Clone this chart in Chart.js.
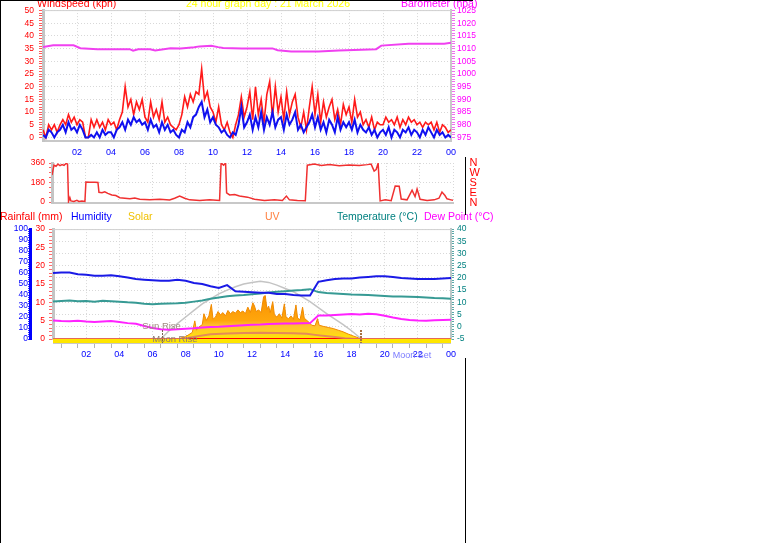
<!DOCTYPE html>
<html><head><meta charset="utf-8"><title>24 hour graph day : 21 March 2026</title>
<script src="https://cdn.jsdelivr.net/npm/chart.js@4.4.1/dist/chart.umd.min.js"></script>
<style>
html,body{margin:0;padding:0;background:#fff;}
body{position:relative;width:761px;height:543px;overflow:hidden;font-family:"Liberation Sans",Arial,sans-serif;}
canvas{position:absolute;display:block;}
.t{position:absolute;font-size:10.5px;line-height:12px;white-space:nowrap;z-index:3;}
.bl{position:absolute;background:#000;z-index:4;}
</style></head><body>
<canvas id="c1" width="500" height="160" style="left:0;top:0"></canvas>
<canvas id="c2" width="464" height="66" style="left:0;top:150px"></canvas>
<canvas id="c3" width="500" height="148" style="left:0;top:220px"></canvas>
<div class="bl" style="left:0;top:0;width:473px;height:1px"></div>
<div class="bl" style="left:0;top:0;width:1px;height:543px"></div>
<div class="bl" style="left:465px;top:157px;width:1px;height:58px"></div>
<div class="bl" style="left:465px;top:358px;width:1px;height:185px"></div>
<div class="t" style="left:37px;top:-2.6px;color:#ff0000">Windspeed (kph)</div>
<div class="t" style="left:186px;top:-2.6px;color:#ffff00">24 hour graph day : 21 March 2026</div>
<div class="t" style="left:401px;top:-2.6px;color:#ff00ff">Barometer (hpa)</div>
<div class="t" style="left:469.5px;top:157px;color:#ff0000;font-size:11px;line-height:10px">N<br>W<br>S<br>E<br>N</div>
<div class="t" style="left:0;top:209.9px;color:#ff0000">Rainfall (mm)</div>
<div class="t" style="left:71px;top:209.9px;color:#0000ff">Humidity</div>
<div class="t" style="left:128px;top:209.9px;color:#f0c000">Solar</div>
<div class="t" style="left:265px;top:209.9px;color:#ff8040">UV</div>
<div class="t" style="left:337px;top:209.9px;color:#008080">Temperature (°C)</div>
<div class="t" style="left:424px;top:209.9px;color:#ff00ff">Dew Point (°C)</div>
<script>
// ---------------- DATA ----------------
// wind speed (kph), one value every 10 minutes from 00:00 to 24:00
const windGust = [
3,0,5,3,5,2, 5,7,5,9,6,8, 5,7,6,0,0,7, 4,7,4,6,3,7,
5,6,3,7,10,20, 12,15,9,14,11,15, 8,6,14,8,11,7, 14,6,8,5,4,3,
5,9,16,12,17,14, 18,17,27,15,18,12, 10,6,12,5,3,6, 2,0,5,9,16,8,
12,18,7,20,9,15, 6,17,22,8,20,10, 16,7,18,9,14,17, 8,4,10,3,12,20,
9,17,6,14,8,12, 15,7,11,5,13,9, 12,6,15,8,10,5, 7,4,8,3,6,5,
5,8,6,7,5,8, 4,7,5,8,6,7, 5,6,4,6,5,6, 3,6,2,5,4,2, 3];
const windAvg = [
1,0,3,2,0,2, 3,5,2,6,3,4, 2,5,3,0,0,1, 0,2,0,3,1,2,
2,0,3,4,6,3, 7,5,8,6,7,5, 6,3,7,4,5,2, 6,3,5,2,3,1,
0,3,2,6,4,8, 9,12,14,8,11,6, 8,5,4,2,3,1, 0,2,1,5,12,4,
6,9,3,8,4,10, 3,8,5,10,4,7, 8,3,9,5,7,10, 3,5,2,4,6,9,
4,8,3,6,2,7, 5,2,8,3,6,4, 6,3,7,2,5,3, 2,4,1,3,0,2,
3,1,4,0,3,2, 0,3,2,4,1,3, 2,0,3,1,4,2, 0,3,1,2,0,1, 0];
const windStepHours = 1/6;

// barometer (hPa)
const baroTimes  = [0,0.6,1.8,2.2,3.2,5.1,5.3,5.6,6.3,6.6,7.5,8.1,8.9,9.2,9.9,10.3,10.6,11.7,13.5,13.8,14.6,16.2,17.4,19.6,19.9,21.5,23.6,24];
const baroValues = [1010.6,1011.3,1011.3,1010.2,1009.8,1009.8,1009.2,1009.8,1009.8,1009.3,1010.2,1010.1,1010.6,1010.9,1011.1,1010.6,1010.3,1010.1,1010.1,1009.4,1008.9,1008.9,1009.3,1009.8,1011.2,1011.9,1011.9,1012.3];

// wind direction (degrees)
const dirTimes  = [0,0.12,0.24,0.36,0.48,0.6,0.72,0.84,0.93,0.99,1.07,1.13,1.31,1.49,1.61,1.79,1.97,2.03,2.27,2.57,2.75,2.81,2.99,3.16,3.34,3.58,3.82,4.06,4.36,4.66,4.96,5.25,5.85,6.45,7.04,7.34,7.64,7.94,8.24,8.84,9.43,10.03,10.12,10.27,10.39,10.45,10.63,10.93,11.22,11.7,12.12,12.72,13.31,13.79,14.03,14.21,14.69,15.16,15.28,15.7,16.12,16.6,17.19,17.79,18.39,18.87,19.1,19.28,19.4,19.52,19.64,19.94,20.3,20.54,20.78,20.9,21.25,21.55,21.73,21.85,22.03,22.45,22.87,23.16,23.34,23.52,23.64,23.88,24];
const dirValues = [249,340,330,350,335,345,338,355,350,5,40,10,5,15,5,10,5,185,183,183,180,90,85,95,80,65,60,40,35,30,38,25,20,25,18,35,55,35,20,15,20,15,360,340,360,85,65,70,55,45,25,15,20,15,55,20,15,12,340,350,338,345,335,342,338,345,350,285,300,358,10,20,12,148,145,28,20,110,50,120,25,15,20,35,92,60,30,20,15];

// half-hourly series, 00:00 .. 24:00
const halfHourStep = 0.5;
const humidity    = [60,60.5,60.5,59,58.5,57.5,57.5,58,57,56,54.5,54,53.5,53,53,54,53,51,50,48,46.5,49,43.5,43,42.5,42,42,41,41,40,39.5,39.5,52,53.5,54.5,55,55,56,56.5,57,57,56.5,55.5,55,54.5,54.5,54.5,55,55.5];
const temperature = [10.4,10.6,10.8,10.5,10.6,10.3,10.7,10.5,10.3,10.0,9.8,9.4,9.2,9.4,9.5,9.6,9.8,10.3,10.8,11.5,12.0,12.5,12.8,13.0,13.3,13.6,14.0,14.3,14.6,14.9,15.1,15.4,14.2,13.8,13.6,13.4,13.2,13.1,13.0,12.8,12.6,12.4,12.4,12.3,12.2,12.0,11.8,11.7,11.5];
const dewPoint    = [2.6,2.4,2.3,2.5,2.2,2.0,2.2,2.4,2.0,1.5,1.2,0.3,-0.5,-1.0,-1.2,-1.0,-0.8,-0.6,-0.3,-0.1,0.0,0.2,0.4,0.6,0.8,0.9,1.1,1.2,1.3,1.3,1.4,1.5,4.6,4.6,4.8,5.0,5.2,5.0,5.3,5.1,4.5,3.8,3.2,2.8,2.6,2.5,2.7,2.8,2.9];

// hourly rainfall (mm)
const rainfall = [0,0,0,0,0,0,0,0,0,0,0,0,0,0,0,0,0,0,0,0,0,0,0,0,0];

// solar radiation (W/m2)
const solarTimes  = [7.4,7.7,8.0,8.2,8.4,8.55,8.65,8.8,9.0,9.1,9.25,9.4,9.55,9.65,9.8,9.95,10.1,10.25,10.4,10.55,10.7,10.85,11.0,11.15,11.3,11.45,11.6,11.75,11.9,12.05,12.15,12.25,12.4,12.55,12.7,12.8,12.9,13.0,13.1,13.25,13.35,13.5,13.65,13.8,13.95,14.05,14.2,14.35,14.5,14.65,14.75,14.9,15.05,15.15,15.3,15.45,15.6,15.8,15.95,16.05,16.3,16.6,16.9,17.2,17.5,17.8,18.1,18.4,18.65];
const solarValues = [0,8,22,40,60,165,80,110,130,230,170,210,315,180,200,250,220,240,210,260,230,250,235,265,240,255,230,290,240,330,300,250,265,240,385,395,270,300,240,340,220,200,230,190,320,200,185,210,180,310,190,175,290,190,170,150,125,120,185,125,115,105,95,80,65,45,28,12,0];
// theoretical maximum solar (W/m2)
const solarMaxTimes  = [6.5,7.0,7.5,8.0,8.5,9.0,9.5,10.0,10.5,11.0,11.5,12.0,12.5,13.0,13.5,14.0,14.5,15.0,15.5,16.0,16.5,17.0,17.5,18.0,18.6];
const solarMaxValues = [0,75,140,200,260,320,365,410,445,475,500,515,525,515,490,460,430,385,340,285,230,180,130,75,0];
// UV index
const uvTimes  = [0,7.7,8.2,8.8,9.5,10.5,11.5,12.5,13.5,14.5,15.3,15.8,16.4,17.0,17.6,18.3,24];
const uvValues = [0,0,0.25,0.55,0.85,1.0,1.1,1.15,1.1,1.05,0.95,0.75,0.55,0.35,0.15,0,0];

// astronomical events (hours)
const sunRise = 6.55, sunSet = 18.6, moonRise = 7.35, moonSet = 21.65;

// tick labels
const xTickHours = [2,4,6,8,10,12,14,16,18,20,22,24];
const xTickText  = ['02','04','06','08','10','12','14','16','18','20','22','00'];
const windTickLabels = [0,5,10,15,20,25,30,35,40,45,50];
const baroTickLabels = [975,980,985,990,995,1000,1005,1010,1015,1020,1025];
const dirTickLabels  = [0,180,360];
const humTickLabels  = [0,10,20,30,40,50,60,70,80,90,100];
const rainTickLabels = [0,5,10,15,20,25,30];
const tempTickLabels = [-5,0,5,10,15,20,25,30,35,40];

// ---------------- HELPERS ----------------
const range = (a,b,s)=>{const r=[];for(let v=a;v<=b+1e-9;v+=s)r.push(+v.toFixed(3));return r;};
const pairs = (t,v)=>v.map((y,i)=>({x:t[i],y}));
const uniform = (v,step)=>v.map((y,i)=>({x:i*step,y}));
const setTicks = list => s => { s.ticks = list.map(v=>({value:v})); };
const hourLabel = v => { const i = xTickHours.indexOf(v); return i>=0 ? xTickText[i] : ''; };
const GRID = '#d8d8d8', CLEAR = 'rgba(0,0,0,0)';

Chart.defaults.font.family = '"Liberation Sans", Arial, sans-serif';
const base = {
  responsive:false, animation:false, events:[], devicePixelRatio:1,
  plugins:{legend:{display:false}, tooltip:{enabled:false}},
  elements:{point:{radius:0}, line:{tension:0}}
};
const topLine = {
  id:'topLine',
  beforeDatasetsDraw(chart){
    const {ctx, chartArea:a} = chart;
    ctx.save(); ctx.strokeStyle='#d0d0d0'; ctx.lineWidth=1;
    ctx.beginPath(); ctx.moveTo(a.left, a.top+0.5); ctx.lineTo(a.right, a.top+0.5); ctx.stroke();
    ctx.restore();
  }
};

// ---------------- PANEL 1: wind speed + barometer ----------------
new Chart(document.getElementById('c1'), {
  type:'line',
  data:{datasets:[
    {data:pairs(baroTimes, baroValues), borderColor:'#f040f0', borderWidth:2, yAxisID:'yb', order:0},
    {data:uniform(windAvg, windStepHours), borderColor:'#1010f0', borderWidth:2, yAxisID:'y', order:1},
    {data:uniform(windGust, windStepHours), borderColor:'#ff1a1a', borderWidth:1.6, yAxisID:'y', order:2}
  ]},
  options:{...base,
    layout:{padding:{top:9}},
    scales:{
      x:{type:'linear', min:0, max:24, afterBuildTicks:setTicks(xTickHours), afterFit:s=>{s.height=19;},
         ticks:{callback:hourLabel, color:'#0000ff', font:{size:9}, padding:6, maxRotation:0, autoSkip:false},
         grid:{color:GRID, drawTicks:false}, border:{color:'#c8c8c8', width:2, dash:[1,2]}},
      y:{position:'left', min:-1.4, max:50.2, afterBuildTicks:setTicks(range(0,50,1)), afterFit:s=>{s.width=43;},
         ticks:{callback:v=>windTickLabels.includes(v)?String(v):'', color:'#ff0000', font:{size:8.5}, padding:5, autoSkip:false},
         grid:{color:c=>(c.tick && c.tick.value%5===0)?GRID:CLEAR, tickColor:'#ff5a5a', tickLength:4},
         border:{color:'#c4c4c4', width:3, dash:[1,2]}},
      yb:{position:'right', min:973.6, max:1025.2, afterBuildTicks:setTicks(range(975,1025,1)), afterFit:s=>{s.width=49;},
         ticks:{callback:v=>baroTickLabels.includes(v)?String(v):'', color:'#ff00ff', font:{size:8.5}, padding:2, autoSkip:false},
         grid:{drawOnChartArea:false, tickColor:'#f070f0', tickLength:4},
         border:{color:'#c8c8c8', width:2}}
    }
  },
  plugins:[topLine]
});

// ---------------- PANEL 2: wind direction ----------------
new Chart(document.getElementById('c2'), {
  type:'line',
  data:{datasets:[
    {data:pairs(dirTimes, dirValues), borderColor:'#f03030', borderWidth:1.5}
  ]},
  options:{...base,
    layout:{padding:{top:13, right:11}},
    scales:{
      x:{type:'linear', min:0, max:24, afterBuildTicks:setTicks(xTickHours), afterFit:s=>{s.height=13;},
         ticks:{display:false}, grid:{color:GRID, drawTicks:false}, border:{color:'#c8c8c8', width:2, dash:[1,2]}},
      y:{position:'left', min:-9, max:360, afterBuildTicks:setTicks(range(0,360,45)), afterFit:s=>{s.width=52;},
         ticks:{callback:v=>dirTickLabels.includes(v)?String(v):'', color:'#ff0000', font:{size:8.5}, padding:4, autoSkip:false},
         grid:{color:c=>(c.tick && (c.tick.value===180||c.tick.value===360))?GRID:CLEAR, tickColor:'#ff6060', tickLength:3},
         border:{color:'#c4c4c4', width:3, dash:[1,2]}}
    }
  }
});

// ---------------- PANEL 3: rain / humidity / solar / UV / temperature / dew point ----------------
const astro = {
  id:'astro',
  beforeDatasetsDraw(chart){
    const {ctx, chartArea:a} = chart;
    ctx.save();
    ctx.fillStyle='#ffe600'; ctx.fillRect(a.left, a.bottom, a.right-a.left, 4);
    ctx.strokeStyle='#c8c8c8'; ctx.lineWidth=1;
    ctx.beginPath(); ctx.moveTo(a.left, a.bottom+4.5); ctx.lineTo(a.right, a.bottom+4.5); ctx.stroke();
    ctx.restore();
  },
  afterDatasetsDraw(chart){
    const {ctx, chartArea:a, scales:{x}} = chart;
    ctx.save();
    ctx.setLineDash([2,1]);
    ctx.strokeStyle='#7a6050'; ctx.lineWidth=1;
    let px = Math.round(x.getPixelForValue(sunRise))+0.5;
    ctx.beginPath(); ctx.moveTo(px, a.bottom-9); ctx.lineTo(px, a.bottom+4); ctx.stroke();
    ctx.strokeStyle='#a87040'; ctx.lineWidth=2;
    px = Math.round(x.getPixelForValue(sunSet));
    ctx.beginPath(); ctx.moveTo(px, a.bottom-9); ctx.lineTo(px, a.bottom+4); ctx.stroke();
    ctx.setLineDash([]);
    ctx.font='9.5px "Liberation Sans", Arial, sans-serif'; ctx.textAlign='center'; ctx.textBaseline='alphabetic';
    ctx.fillStyle='#a08a80'; ctx.fillText('Sun Rise', x.getPixelForValue(sunRise), a.bottom-10);
    ctx.fillStyle='#907a70'; ctx.fillText('Moon Rise', x.getPixelForValue(moonRise), a.bottom+3);
    ctx.restore();
  },
  afterDraw(chart){
    const {ctx, chartArea:a, scales:{x}} = chart;
    ctx.save();
    ctx.font='9px "Liberation Sans", Arial, sans-serif'; ctx.textAlign='center'; ctx.textBaseline='alphabetic';
    ctx.fillStyle='#7a7aff'; ctx.fillText('Moon Set', x.getPixelForValue(moonSet), a.bottom+18.5);
    ctx.restore();
  }
};
const solarFill = c => {
  const ch = c.chart, ys = ch.scales.ysolar;
  if (!ch.chartArea || !ys) return 'rgb(255,180,20)';
  const g = ch.ctx.createLinearGradient(0, ys.getPixelForValue(0), 0, ys.getPixelForValue(400));
  g.addColorStop(0,'rgb(255,234,0)'); g.addColorStop(0.12,'rgb(255,214,25)');
  g.addColorStop(0.3,'rgb(255,192,50)'); g.addColorStop(0.42,'rgb(255,166,12)');
  g.addColorStop(1,'rgb(248,144,0)');
  return g;
};
new Chart(document.getElementById('c3'), {
  type:'line',
  data:{datasets:[
    {data:pairs(uvTimes, uvValues), borderColor:'rgba(225,125,100,0.85)', borderWidth:2, yAxisID:'yuv', order:0},
    {data:uniform(rainfall, 1), borderColor:'#ff0000', borderWidth:2, yAxisID:'yr', order:1},
    {data:uniform(dewPoint, halfHourStep), borderColor:'#ff22ff', borderWidth:2, yAxisID:'yt', order:2},
    {data:uniform(humidity, halfHourStep), borderColor:'#1a1ae6', borderWidth:2, yAxisID:'yh', order:3},
    {data:uniform(temperature, halfHourStep), borderColor:'#379a94', borderWidth:2, yAxisID:'yt', order:4},
    {data:pairs(solarMaxTimes, solarMaxValues), borderColor:'#c4c4c4', borderWidth:1.5, yAxisID:'ysolar', order:5},
    {data:pairs(solarTimes, solarValues), borderColor:'rgb(240,138,0)', borderWidth:1, backgroundColor:solarFill, fill:'origin', yAxisID:'ysolar', order:6}
  ]},
  options:{...base,
    layout:{padding:{top:5}},
    scales:{
      x:{type:'linear', min:0, max:24, afterBuildTicks:setTicks(range(0,24,0.5)), afterFit:s=>{s.height=29;},
         ticks:{callback:hourLabel, color:'#0000ff', font:{size:9}, padding:1, maxRotation:0, autoSkip:false},
         grid:{color:c=>(c.tick && c.tick.value%2===0)?GRID:CLEAR, tickColor:c=>(c.tick && c.tick.value%1!==0)?'#b4b4b4':CLEAR, tickLength:9},
         border:{color:'#c8c8c8', width:2, dash:[1,2]}},
      yh:{position:'left', weight:2, min:0, max:100, afterBuildTicks:setTicks(range(0,100,2)), afterFit:s=>{s.width=30;},
         ticks:{callback:v=>humTickLabels.includes(v)?String(v):'', color:'#0000ff', font:{size:8.5}, padding:0, autoSkip:false},
         grid:{drawOnChartArea:false, tickColor:'#3030ff', tickLength:2},
         border:{color:'#0000ff', width:3}},
      yr:{position:'left', weight:1, min:0, max:30, afterBuildTicks:setTicks(range(0,30,1)), afterFit:s=>{s.width=23;},
         ticks:{callback:v=>rainTickLabels.includes(v)?String(v):'', color:'#ff0000', font:{size:8.5}, padding:4, autoSkip:false},
         grid:{drawOnChartArea:false, tickColor:'#ff6a6a', tickLength:4},
         border:{color:'#c4c4c4', width:3}},
      yt:{position:'right', min:-5, max:40, afterBuildTicks:setTicks(range(-5,40,1)), afterFit:s=>{s.width=49;},
         ticks:{callback:v=>tempTickLabels.includes(v)?String(v):'', color:'#008080', font:{size:8.5}, padding:3, autoSkip:false},
         grid:{color:c=>(c.tick && c.tick.value%5===0)?GRID:CLEAR, tickColor:'#5aa8a8', tickLength:3},
         border:{color:'#bcc8c8', width:2, dash:[1,2]}},
      ysolar:{display:false, min:0, max:1000},
      yuv:{display:false, min:0, max:20}
    }
  },
  plugins:[topLine, astro]
});
</script>
</body></html>
